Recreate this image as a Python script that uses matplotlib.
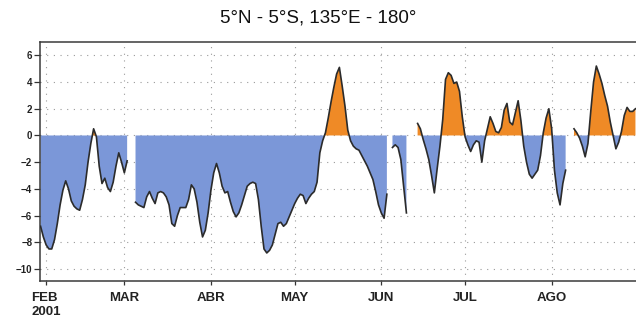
import numpy as np
import matplotlib
matplotlib.use("Agg")
import matplotlib.pyplot as plt

# Daily wind/OLR-style anomaly index, 5N-5S 135E-180, Feb-Aug 2001.
# Each block is a run of consecutive daily values starting on the given date;
# days between blocks are missing.
seg_feb_start = "2001-01-30"
seg_feb = [-6.8, -7.6, -8.2, -8.5, -8.5, -7.8, -6.6, -5.2, -4.1, -3.4,
           -4.0, -4.9, -5.3, -5.5, -5.6, -4.8, -3.7, -2.0, -0.6, 0.5,
           -0.1, -2.3, -3.6, -3.2, -3.9, -4.2, -3.5, -2.3, -1.3, -2.0,
           -2.8, -1.9]

seg_mar_start = "2001-03-05"
seg_mar = [-5.0, -5.2, -5.3, -5.4, -4.6, -4.2, -4.7, -5.1, -4.3, -4.2,
           -4.3, -4.6, -5.2, -6.6, -6.8, -6.0, -5.4, -5.4, -5.4, -4.8,
           -3.7, -4.0, -5.0, -6.5, -7.6, -7.1, -5.8, -4.1, -2.8, -2.1,
           -2.8, -3.8, -4.3, -4.2, -5.0, -5.7, -6.1, -5.8, -5.2, -4.5,
           -3.8, -3.6, -3.5, -3.6, -4.8, -6.8, -8.5, -8.8, -8.6, -8.2,
           -7.4, -6.6, -6.5, -6.8, -6.6, -6.1, -5.6, -5.1, -4.7, -4.4,
           -4.5, -5.1, -4.7, -4.4, -4.2, -3.5, -1.3, -0.4, 0.2, 1.3,
           2.5, 3.6, 4.6, 5.1, 3.7, 2.2, 0.4, -0.4, -0.8, -1.0,
           -1.1, -1.5, -1.9, -2.3, -2.8, -3.3, -4.2, -5.2, -5.8, -6.2,
           -4.4]

seg_jun_start = "2001-06-05"
seg_jun = [-0.9, -0.7, -0.9, -1.8, -3.8, -5.8]

seg_jul_start = "2001-06-14"
seg_jul = [0.9, 0.5, -0.3, -1.0, -1.8, -3.0, -4.3, -2.5, -0.8, 1.2,
           4.2, 4.7, 4.5, 3.9, 4.0, 3.3, 1.4, -0.1, -0.7, -1.2,
           -0.7, -0.4, -0.5, -2.0, -0.4, 0.5, 1.4, 0.9, 0.3, 0.2,
           0.6, 1.9, 2.4, 1.0, 0.8, 1.7, 2.6, 1.1, -0.8, -2.0,
           -2.9, -3.2, -2.9, -2.6, -1.5, 0.2, 1.3, 2.0, 0.5, -2.6,
           -4.3, -5.2, -3.6, -2.6]

seg_aug_start = "2001-08-09"
seg_aug = [0.5, 0.2, -0.2, -0.8, -1.6, -0.6, 1.8, 4.0, 5.2, 4.6,
           3.9, 3.0, 2.2, 1.0, 0.0, -1.0, -0.5, 0.3, 1.5, 2.1,
           1.8, 1.8, 2.0]

month_starts = ["2001-02-01", "2001-03-01", "2001-04-01", "2001-05-01",
                "2001-06-01", "2001-07-01", "2001-08-01"]
month_labels = ["FEB\n2001", "MAR", "ABR", "MAY", "JUN", "JUL", "AGO"]
y_ticks = [6, 4, 2, 0, -2, -4, -6, -8, -10]

origin = np.datetime64("2001-02-01")
x_first = np.datetime64("2001-01-30")
x_last = np.datetime64("2001-08-31")

# assemble one daily series with NaN on missing days
n_days = int((x_last - x_first).astype(int)) + 1
series = np.full(n_days, np.nan)
for s, vals in [(seg_feb_start, seg_feb), (seg_mar_start, seg_mar),
                (seg_jun_start, seg_jun), (seg_jul_start, seg_jul),
                (seg_aug_start, seg_aug)]:
    i0 = int((np.datetime64(s) - x_first).astype(int))
    series[i0:i0 + len(vals)] = vals
day = (x_first - origin).astype(int) + np.arange(n_days)

tick_days = (np.array(month_starts, dtype="datetime64[D]") - origin).astype(int)

fig = plt.figure(figsize=(6.36, 3.26), dpi=100)
ax = fig.add_axes([40 / 636, 1 - 281 / 326, 596 / 636, 239 / 326])

blue = "#7b97d8"
orange = "#ef8a26"
y = np.ma.masked_invalid(series)
ax.fill_between(day, y, 0, where=(np.nan_to_num(series, nan=-99) >= 0) & ~np.isnan(series),
                interpolate=True, color=orange, linewidth=0, zorder=2)
ax.fill_between(day, y, 0, where=(np.nan_to_num(series, nan=99) <= 0) & ~np.isnan(series),
                interpolate=True, color=blue, linewidth=0, zorder=2)
ax.plot(day, series, color="#2b2b2b", linewidth=1.2, zorder=3)

ax.set_xlim(-2.2, 211.2)
ax.set_ylim(-10.9, 7.0)
ax.set_yticks(y_ticks)
ax.set_yticklabels([f"{v:d}".replace("-", "\u2212") for v in y_ticks],
                   fontsize=7, fontweight="bold", family=["Liberation Sans", "DejaVu Sans"])
ax.set_xticks(tick_days)
ax.set_xticklabels(month_labels, fontsize=9.5, fontweight="bold",
                   family=["Liberation Sans Narrow", "Liberation Sans", "DejaVu Sans"],
                   linespacing=1.25)
for lab in ax.get_xticklabels():
    lab.set_horizontalalignment("center")
ax.get_xticklabels()[0].set_multialignment("left")

ax.tick_params(axis="y", direction="out", length=4, width=0.9, pad=1.5, colors="#333333")
ax.tick_params(axis="x", direction="out", length=3, width=0.9, pad=5, colors="#333333")
for lab in ax.get_xticklabels() + ax.get_yticklabels():
    lab.set_color("#222222")

ax.grid(True, linestyle=(0, (1, 5)), color="#9a9a9a", linewidth=0.8)
ax.set_axisbelow(True)

for side in ["left", "bottom", "top"]:
    ax.spines[side].set_color("#3a3a3a")
    ax.spines[side].set_linewidth(1.1)
ax.spines["right"].set_visible(False)

fig.text(0.5, 1 - 18 / 326, "5°N - 5°S, 135°E - 180°", ha="center", va="center",
         fontsize=13.5, family=["Liberation Sans", "DejaVu Sans"], color="#111111")

fig.savefig("out.png", dpi=100)
